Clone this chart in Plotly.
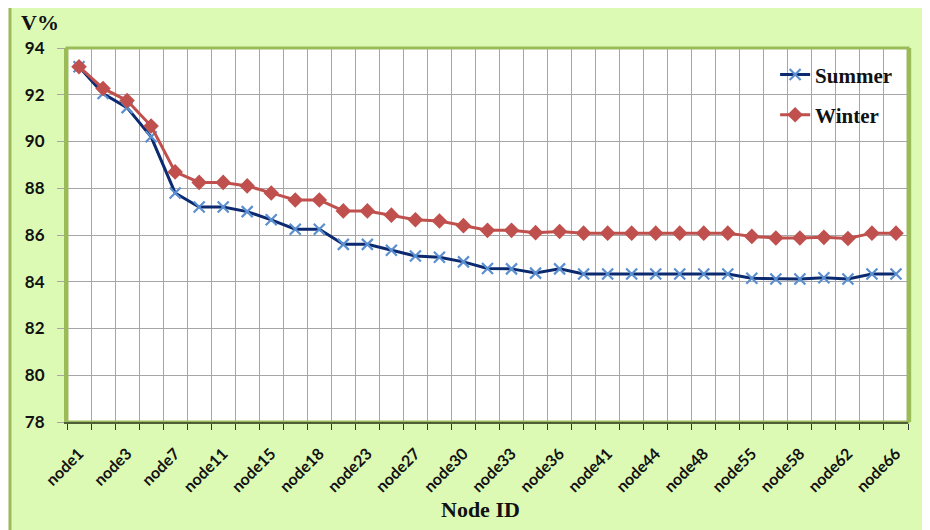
import plotly.graph_objects as go

nodes = ["node1", "node2", "node3", "node5", "node7", "node9", "node11", "node13",
         "node15", "node16", "node18", "node20", "node23", "node25", "node27", "node28",
         "node30", "node31", "node33", "node34", "node36", "node38", "node41", "node42",
         "node44", "node46", "node48", "node50", "node55", "node56", "node58", "node60",
         "node62", "node64", "node66"]
shown_labels = ["node1", "node3", "node7", "node11", "node15", "node18", "node23", "node27",
                "node30", "node33", "node36", "node41", "node44", "node48", "node55", "node58",
                "node62", "node66"]

summer = [93.2, 92.05, 91.45, 90.2, 87.8, 87.2, 87.2, 87.0, 86.65, 86.25, 86.25, 85.6,
          85.6, 85.35, 85.1, 85.05, 84.85, 84.57, 84.55, 84.37, 84.55, 84.33, 84.33, 84.33,
          84.33, 84.33, 84.33, 84.33, 84.15, 84.12, 84.12, 84.17, 84.12, 84.33, 84.33]
winter = [93.2, 92.27, 91.75, 90.66, 88.7, 88.25, 88.25, 88.1, 87.8, 87.5, 87.5, 87.03,
          87.03, 86.85, 86.65, 86.6, 86.4, 86.2, 86.2, 86.1, 86.15, 86.08, 86.08, 86.08,
          86.08, 86.08, 86.08, 86.08, 85.94, 85.87, 85.87, 85.9, 85.85, 86.08, 86.08]

y_ticks = [78, 80, 82, 84, 86, 88, 90, 92, 94]

ticktext = [n if n in shown_labels else "" for n in nodes]

GREEN = "#9BBB59"
BG = "#DDFAB4"
GRID = "#A6A6A6"

fig = go.Figure()
fig.add_trace(go.Scatter(
    x=nodes, y=summer, name="Summer", mode="lines+markers", legendgroup="s",
    line=dict(color="#0B2A6F", width=3),
    marker=dict(symbol="x-thin", size=11, color="#5B8FD0",
                line=dict(color="#5B8FD0", width=2.2)),
))
fig.add_trace(go.Scatter(
    x=nodes, y=winter, name="Winter", mode="lines+markers", legendgroup="w",
    line=dict(color="#C0504D", width=3),
    marker=dict(symbol="diamond", size=12, color="#C0504D"),
))

# chart background box, white plot area and its green frame
fig.add_shape(type="rect", xref="paper", yref="paper", x0=-0.0678, x1=1.05,
              y0=-0.33, y1=1.1203, fillcolor=BG, line=dict(color=GREEN, width=3),
              layer="below")
fig.add_shape(type="rect", xref="paper", yref="paper", x0=0, x1=1, y0=0, y1=1,
              fillcolor="white", line=dict(color=GREEN, width=3), layer="below")
fig.add_shape(type="line", xref="paper", yref="paper", x0=1.002, x1=1.002, y0=0, y1=1,
              line=dict(color=GREEN, width=3), layer="below")

fig.update_layout(
    width=930, height=530,
    margin=dict(l=59, r=30, t=40, b=116),
    paper_bgcolor="white",
    plot_bgcolor="white",
    showlegend=True,
    legend=dict(x=0.842, y=0.983, xanchor="left", yanchor="top",
                bgcolor="rgba(0,0,0,0)", tracegroupgap=10,
                font=dict(family="Liberation Serif", size=21, color="#111111",
                          weight="bold")),
    xaxis=dict(
        type="category", categoryorder="array", categoryarray=nodes,
        range=[-0.5, len(nodes) - 0.5],
        tickmode="array", tickvals=nodes, ticktext=ticktext,
        tickson="boundaries", ticks="outside", ticklen=6, tickcolor="#333333",
        tickangle=-45, ticklabelstandoff=14,
        tickfont=dict(family="Lato", size=16, color="#111111", weight="bold"),
        showgrid=True, gridcolor=GRID, gridwidth=1,
        showline=True, linecolor="#4E5E38", linewidth=2,
        zeroline=False,
    ),
    yaxis=dict(
        range=[78, 94], tickmode="array", tickvals=y_ticks,
        ticks="outside", ticklen=7, tickcolor=GRID, ticklabelstandoff=9,
        tickfont=dict(family="Lato", size=17, color="#111111", weight="bold"),
        showgrid=True, gridcolor=GRID, gridwidth=1,
        showline=True, linecolor=GREEN, linewidth=3,
        zeroline=False,
    ),
    annotations=[
        dict(text="V%", xref="paper", yref="paper", x=(19 - 67) / 841, y=1 + (48 - 23) / 374,
             xanchor="left", yanchor="middle", showarrow=False,
             font=dict(family="Liberation Serif", size=22, color="#111111", weight="bold")),
        dict(text="Node ID", xref="paper", yref="paper", x=(480 - 67) / 841,
             y=-(509 - 422) / 374, xanchor="center", yanchor="middle", showarrow=False,
             font=dict(family="Liberation Serif", size=22, color="#111111", weight="bold")),
    ],
)

fig.write_html("out.html")
